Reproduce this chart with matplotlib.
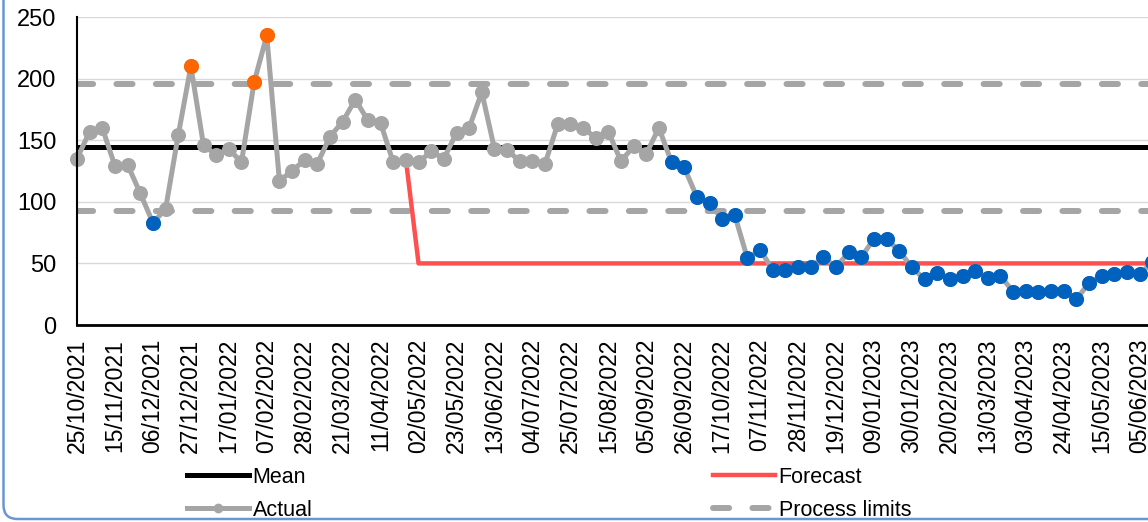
import numpy as np
import matplotlib.pyplot as plt
from matplotlib.lines import Line2D
from matplotlib.patches import FancyBboxPatch
from matplotlib.transforms import IdentityTransform

plt.rcParams['font.family'] = ['Liberation Sans', 'DejaVu Sans']

# weekly values, first week is 25/10/2021
actual = [135, 157, 160, 129, 130, 107, 83, 94, 154, 210,
          146, 138, 143, 132, 197, 235, 117, 125, 134, 131,
          153, 165, 183, 166, 164, 132, 134, 132, 141, 135,
          156, 160, 189, 143, 142, 133, 133, 131, 163, 163,
          160, 152, 157, 133, 145, 139, 160, 132, 128, 104,
          99, 86, 89, 54, 61, 45, 45, 47, 47, 55,
          47, 59, 55, 70, 70, 60, 47, 37, 42, 37,
          40, 44, 38, 40, 27, 28, 27, 28, 28, 21,
          34, 40, 41, 43, 41, 51]
forecast = [None] * 26 + [134] + [50] * 59
mean_value = 144.5
upper_limit = 196
lower_limit = 92.5

tick_labels = ['25/10/2021', '15/11/2021', '06/12/2021', '27/12/2021', '17/01/2022',
               '07/02/2022', '28/02/2022', '21/03/2022', '11/04/2022', '02/05/2022',
               '23/05/2022', '13/06/2022', '04/07/2022', '25/07/2022', '15/08/2022',
               '05/09/2022', '26/09/2022', '17/10/2022', '07/11/2022', '28/11/2022',
               '19/12/2022', '09/01/2023', '30/01/2023', '20/02/2023', '13/03/2023',
               '03/04/2023', '24/04/2023', '15/05/2023', '05/06/2023']

GREY = '#A5A5A5'
ORANGE = '#FF6600'
BLUE = '#0062BE'
RED = '#FF5050'

weeks = np.arange(len(actual))
values = np.array(actual, dtype=float)
fc = np.array([np.nan if v is None else v for v in forecast])

# special causes: outside the limits, or a long run below the mean
high = values > upper_limit
low = values < lower_limit
below = values < mean_value
run_start = None
for i in range(len(values) + 1):
    if i < len(values) and below[i]:
        if run_start is None:
            run_start = i
    else:
        if run_start is not None and i - run_start >= 7:
            low[run_start:i] = True
        run_start = None

fig = plt.figure(figsize=(11.48, 5.22), dpi=100)
ax = fig.add_axes([77 / 1148, 1 - 325 / 522, 1071 / 1148, 308 / 522])

ax.set_xlim(0, 1071 / 12.65)
ax.set_ylim(0, 250)
ax.set_yticks(range(0, 251, 50))
ax.yaxis.grid(True, color='#D9D9D9', lw=1.0)
ax.set_axisbelow(True)

lim_style = dict(color=GREY, lw=4.3, dashes=(2.7, 3.9), dash_capstyle='round')
ax.axhline(upper_limit, **lim_style)
ax.axhline(lower_limit, **lim_style)
ax.axhline(mean_value, color='black', lw=3.6)
ax.plot(weeks, fc, color=RED, lw=3.2)
ax.plot(weeks, values, color=GREY, lw=3.6, marker='o', ms=9.8, mec=GREY, clip_on=False)
ax.plot(weeks[high], values[high], 'o', color=ORANGE, ms=9.8, clip_on=False)
ax.plot(weeks[low], values[low], 'o', color=BLUE, ms=9.8, clip_on=False)

ax.set_xticks(range(0, 3 * len(tick_labels), 3))
ax.set_xticklabels(tick_labels, rotation=90, fontsize=16.5)
ax.tick_params(axis='x', length=0, pad=10)
ax.tick_params(axis='y', length=0, pad=15, labelsize=17)

for side in ['top', 'right']:
    ax.spines[side].set_visible(False)
ax.spines['left'].set_linewidth(1.5)
ax.spines['bottom'].set_linewidth(2.0)

handles = [
    Line2D([], [], color='black', lw=3.6),
    Line2D([], [], color=GREY, lw=3.6, marker='o', ms=6),
    Line2D([], [], color=RED, lw=3.2),
    Line2D([], [], **lim_style),
]
fig.legend(handles, ['Mean', 'Actual', 'Forecast', 'Process limits'],
           ncol=2, loc='upper left', bbox_to_anchor=(187 / 1148, 1 - 467 / 522),
           frameon=False, fontsize=15.5, borderpad=0, borderaxespad=0,
           handlelength=2.9, handletextpad=0.15, labelspacing=0.55,
           columnspacing=18.6, numpoints=1)

# chart frame, only its left and bottom edges fall inside the image
frame = FancyBboxPatch((3.5, 3), 3000, 3000, boxstyle='round,pad=0,rounding_size=14',
                       transform=IdentityTransform(), fill=False,
                       edgecolor='#6A96D4', lw=1.8)
fig.add_artist(frame)

fig.savefig('out.png', dpi=100)
